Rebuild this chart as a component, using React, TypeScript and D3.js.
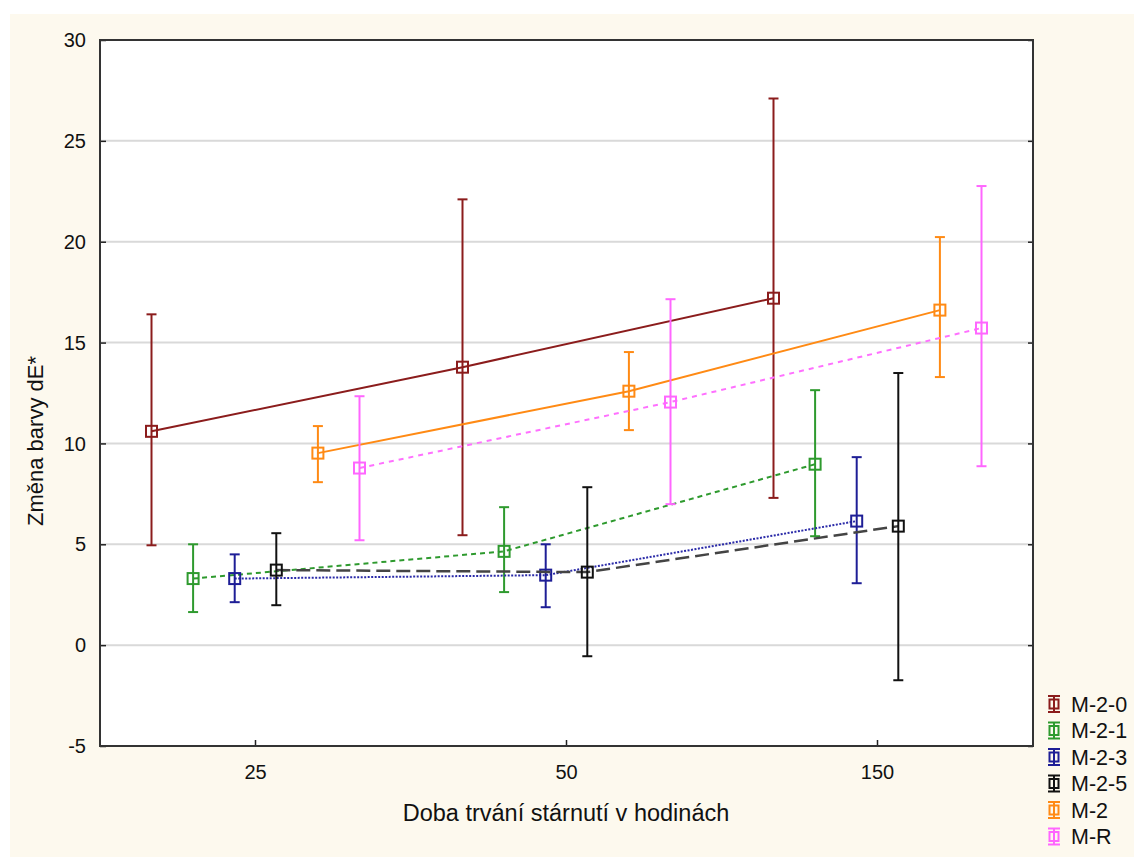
import { useRef, useEffect } from 'react';
import * as d3 from 'd3';

// aging duration categories (hours)
const categories = ['25', '50', '150'];
const seriesNames = ['M-2-0', 'M-2-1', 'M-2-3', 'M-2-5', 'M-2', 'M-R'];
const yTicks = [-5, 0, 5, 10, 15, 20, 25, 30];

// mean dE* and error bar bounds, per series, in category order
const meanM20 = [10.6, 13.78, 17.2];
const lowM20 = [4.95, 5.45, 7.3];
const highM20 = [16.4, 22.1, 27.1];

const meanM21 = [3.3, 4.65, 8.97];
const lowM21 = [1.64, 2.63, 5.4];
const highM21 = [5.0, 6.84, 12.64];

const meanM23 = [3.3, 3.47, 6.15];
const lowM23 = [2.13, 1.88, 3.07];
const highM23 = [4.5, 5.0, 9.32];

const meanM25 = [3.72, 3.62, 5.9];
const lowM25 = [1.98, -0.55, -1.74];
const highM25 = [5.55, 7.83, 13.49];

const meanM2 = [9.52, 12.59, 16.61];
const lowM2 = [8.08, 10.66, 13.29];
const highM2 = [10.86, 14.53, 20.23];

const meanMR = [8.78, 12.05, 15.72];
const lowMR = [5.2, 6.99, 8.87];
const highMR = [12.34, 17.15, 22.76];

const seriesMeans = [meanM20, meanM21, meanM23, meanM25, meanM2, meanMR];
const seriesLows = [lowM20, lowM21, lowM23, lowM25, lowM2, lowMR];
const seriesHighs = [highM20, highM21, highM23, highM25, highM2, highMR];

const colors = ['#8b1c1c', '#2e9a2e', '#1e1e96', '#111111', '#ff8a14', '#ff66ff'];
const lineColors = ['#8b1c1c', '#2e9a2e', '#2a2aa8', '#444444', '#ff8a14', '#ff70ff'];
const dashes = [null, '5,4', '2,1.5', '14,6', null, '5,5'];

function Chart() {
    const ref = useRef<SVGSVGElement>(null);

    useEffect(() => {
        const svg = d3.select(ref.current);
        svg.selectAll('*').remove();

        const font = 'Liberation Sans, Arial, sans-serif';
        const left = 100, right = 1033, top = 40, bottom = 746;

        svg.append('rect').attr('width', 1134).attr('height', 857).attr('fill', '#ffffff');
        svg.append('rect').attr('x', 10).attr('y', 14).attr('width', 1124).attr('height', 843).attr('fill', '#fdf9ee');
        svg.append('rect').attr('x', left).attr('y', top).attr('width', right - left).attr('height', bottom - top).attr('fill', '#ffffff');

        const x = d3.scaleBand().domain(categories).range([left, right]).padding(0);
        const offset = d3.scalePoint().domain(seriesNames).range([-104, 104]);
        const y = d3.scaleLinear().domain([-5, 30]).range([bottom, top]);

        // grid
        svg.append('g')
            .selectAll('line')
            .data(yTicks.filter(t => t > -5 && t < 30))
            .enter().append('line')
            .attr('x1', left).attr('x2', right)
            .attr('y1', d => y(d)).attr('y2', d => y(d))
            .attr('stroke', '#d9d9d9').attr('stroke-width', 2);

        // y axis (ticks inside, both sides)
        const yAxis = svg.append('g')
            .attr('transform', `translate(${left},0)`)
            .call(d3.axisRight(y).tickValues(yTicks).tickSize(6).tickFormat(() => ''));
        yAxis.select('.domain').remove();
        yAxis.selectAll('line').attr('stroke', '#222').attr('stroke-width', 1.5);
        const yAxisR = svg.append('g')
            .attr('transform', `translate(${right},0)`)
            .call(d3.axisLeft(y).tickValues(yTicks).tickSize(5).tickFormat(() => ''));
        yAxisR.select('.domain').remove();
        yAxisR.selectAll('line').attr('stroke', '#222').attr('stroke-width', 1.5);

        svg.append('g')
            .selectAll('text')
            .data(yTicks)
            .enter().append('text')
            .attr('x', 86).attr('y', d => y(d))
            .attr('dy', '0.36em')
            .attr('text-anchor', 'end')
            .attr('font-family', font).attr('font-size', 20).attr('fill', '#111')
            .text(d => d);

        // x axis
        const xAxis = svg.append('g')
            .attr('transform', `translate(0,${bottom})`)
            .call(d3.axisTop(x).tickSize(6).tickFormat(() => ''));
        xAxis.select('.domain').remove();
        xAxis.selectAll('line').attr('stroke', '#222').attr('stroke-width', 1.5);

        svg.append('g')
            .selectAll('text')
            .data(categories)
            .enter().append('text')
            .attr('x', d => x(d)! + x.bandwidth() / 2).attr('y', 779)
            .attr('text-anchor', 'middle')
            .attr('font-family', font).attr('font-size', 20).attr('fill', '#111')
            .text(d => d);

        svg.append('text')
            .attr('x', 566).attr('y', 821)
            .attr('text-anchor', 'middle')
            .attr('font-family', font).attr('font-size', 23.5).attr('fill', '#111')
            .text('Doba trvání stárnutí v hodinách');

        svg.append('text')
            .attr('transform', 'translate(43,441) rotate(-90)')
            .attr('text-anchor', 'middle')
            .attr('font-family', font).attr('font-size', 22).attr('fill', '#111')
            .text('Změna barvy dE*');

        // series
        const px = (c: string, s: string) => x(c)! + x.bandwidth() / 2 + offset(s)!;
        seriesNames.forEach((s, i) => {
            const pts = categories.map((c, j) => ({ x: px(c, s), mean: seriesMeans[i][j], lo: seriesLows[i][j], hi: seriesHighs[i][j] }));
            const g = svg.append('g');

            const line = d3.line<any>().x(d => d.x).y(d => y(d.mean));
            const path = g.append('path')
                .attr('d', line(pts))
                .attr('fill', 'none')
                .attr('stroke', lineColors[i])
                .attr('stroke-width', i === 3 ? 2.5 : 2);
            if (dashes[i]) path.attr('stroke-dasharray', dashes[i]);

            pts.forEach(p => {
                g.append('line').attr('x1', p.x).attr('x2', p.x).attr('y1', y(p.hi)).attr('y2', y(p.lo))
                    .attr('stroke', colors[i]).attr('stroke-width', 2);
                [p.hi, p.lo].forEach(v => {
                    g.append('line').attr('x1', p.x - 5).attr('x2', p.x + 5).attr('y1', y(v)).attr('y2', y(v))
                        .attr('stroke', colors[i]).attr('stroke-width', 2);
                });
                g.append('rect').attr('x', p.x - 5.5).attr('y', y(p.mean) - 5.5).attr('width', 11).attr('height', 11)
                    .attr('fill', 'none').attr('stroke', colors[i]).attr('stroke-width', 2);
            });
        });

        // frame
        svg.append('rect').attr('x', left).attr('y', top).attr('width', right - left).attr('height', bottom - top)
            .attr('fill', 'none').attr('stroke', '#333').attr('stroke-width', 2);

        // legend
        const legend = svg.append('g');
        seriesNames.forEach((s, i) => {
            const ly = 704 + i * 26.5;
            const lx = 1054;
            legend.append('line').attr('x1', lx).attr('x2', lx).attr('y1', ly - 8).attr('y2', ly + 8)
                .attr('stroke', colors[i]).attr('stroke-width', 2);
            [ly - 8, ly + 8].forEach(v => {
                legend.append('line').attr('x1', lx - 6).attr('x2', lx + 6).attr('y1', v).attr('y2', v)
                    .attr('stroke', colors[i]).attr('stroke-width', 2);
            });
            legend.append('rect').attr('x', lx - 4.5).attr('y', ly - 4.5).attr('width', 9).attr('height', 9)
                .attr('fill', 'none').attr('stroke', colors[i]).attr('stroke-width', 2);
            legend.append('text').attr('x', 1071).attr('y', ly).attr('dy', '0.36em')
                .attr('font-family', font).attr('font-size', 21.5).attr('fill', '#111')
                .text(s);
        });
    }, []);

    return <svg ref={ref} width={1134} height={857} style={{ position: 'absolute', left: 0, top: 0 }} />;
}

export default function App() {
    return <Chart />;
}
